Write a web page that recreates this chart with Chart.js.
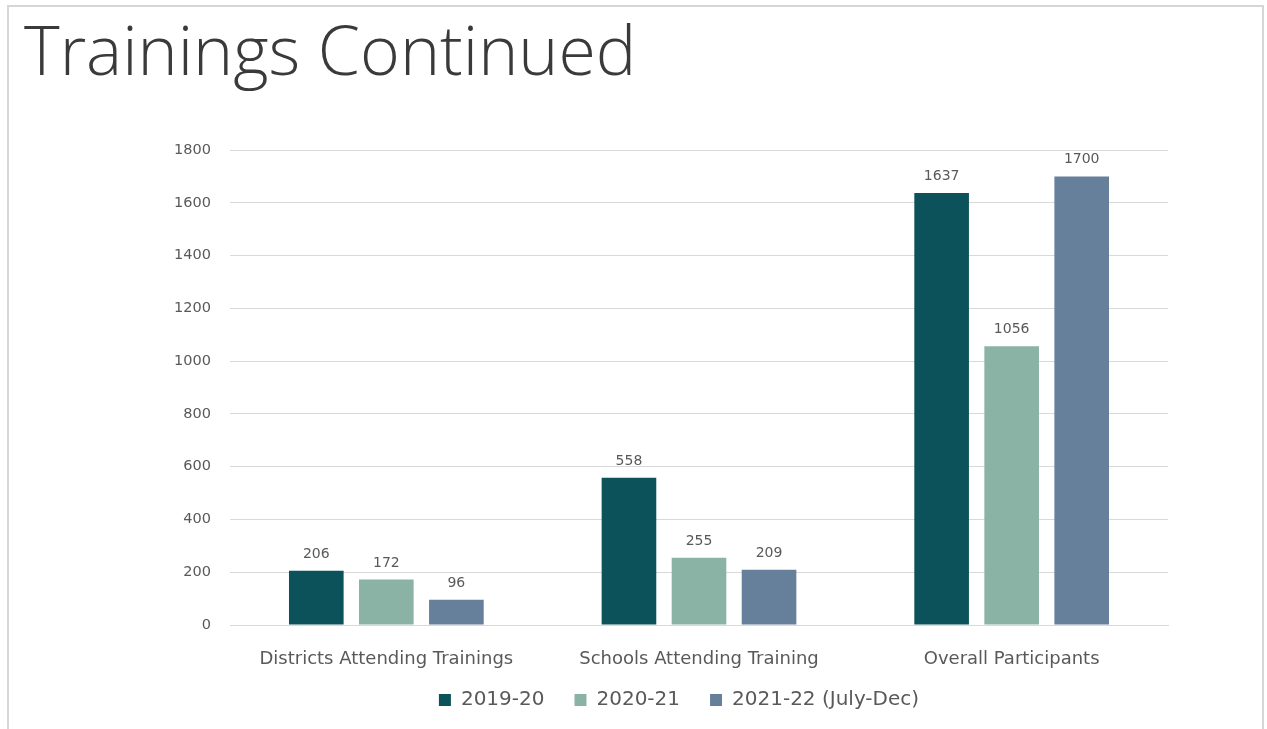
<!DOCTYPE html>
<html lang="en">
<head>
  <meta charset="UTF-8">
  <title>Trainings Continued</title>
  <script src="https://cdn.jsdelivr.net/npm/chart.js@4/dist/chart.umd.min.js"></script>
  <style>
    body {
      margin: 0;
      padding: 0;
      background-color: #ffffff;
      font-family: 'Open Sans', sans-serif;
    }

    #frame {
      position: absolute;
      left: 7px;
      top: 5px;
      width: 1253px;
      height: 740px;
      border: 2px solid #d6d6d6;
    }

    h1 {
      position: absolute;
      left: 24px;
      top: 2px;
      margin: 0;
      font-family: 'Open Sans', sans-serif;
      font-weight: 300;
      font-size: 68px;
      color: #3a3a3a;
    }

    #wrap {
      position: absolute;
      left: 0;
      top: 0;
      width: 1267px;
      height: 729px;
    }
  </style>
</head>
<body>

  <div id="frame"></div>
  <h1>Trainings Continued</h1>

  <div id="wrap">
    <canvas id="chart"></canvas>
  </div>

  <script>
    // data
    const categories = ['Districts Attending Trainings', 'Schools Attending Training', 'Overall Participants'];
    const seriesNames = ['2019-20', '2020-21', '2021-22 (July-Dec)'];
    const values2019 = [206, 558, 1637];
    const values2020 = [172, 255, 1056];
    const values2021 = [96, 209, 1700];
    const colors = ['#0c525b', '#8ab3a6', '#667f9b'];

    const textColor = '#595959';
    const textFont = 'DejaVu Sans';

    // values written over the bars
    const barLabels = {
      id: 'barLabels',
      afterDatasetsDraw(chart) {
        const ctx = chart.ctx;
        ctx.save();
        ctx.font = '14px "' + textFont + '"';
        ctx.fillStyle = textColor;
        ctx.textAlign = 'center';
        ctx.textBaseline = 'alphabetic';
        chart.data.datasets.forEach((ds, i) => {
          chart.getDatasetMeta(i).data.forEach((bar, j) => {
            ctx.fillText(ds.data[j], bar.x, bar.y - 13);
          });
        });
        ctx.restore();
      }
    };

    // nudge the legend so it sits where the original one is
    const legendShift = {
      id: 'legendShift',
      afterLayout(chart) {
        chart.legend.left += 50;
        chart.legend.top -= 9;
      }
    };

    const ctx = document.getElementById('chart').getContext('2d');
    const chart = new Chart(ctx, {
      type: 'bar',
      data: {
        labels: categories,
        datasets: [
          { label: seriesNames[0], data: values2019, backgroundColor: colors[0] },
          { label: seriesNames[1], data: values2020, backgroundColor: colors[1] },
          { label: seriesNames[2], data: values2021, backgroundColor: colors[2] }
        ]
      },
      options: {
        responsive: true,
        maintainAspectRatio: false,
        animation: false,
        categoryPercentage: 0.672,
        barPercentage: 0.78,
        layout: {
          padding: { left: 140, right: 99, top: 150, bottom: 0 }
        },
        plugins: {
          legend: {
            position: 'bottom',
            labels: {
              color: textColor,
              font: { family: textFont, size: 20 },
              boxWidth: 12,
              boxHeight: 12,
              padding: 30
            }
          },
          tooltip: { enabled: false }
        },
        scales: {
          x: {
            grid: { display: false },
            border: { color: '#d9d9d9' },
            ticks: {
              color: textColor,
              font: { family: textFont, size: 18 },
              padding: 16
            },
            afterFit(scale) { scale.height = 44; }
          },
          y: {
            min: 0,
            max: 1800,
            ticks: {
              stepSize: 200,
              color: textColor,
              font: { family: textFont, size: 14.5 },
              padding: 19,
              callback: (value) => String(value)
            },
            grid: { color: '#d9d9d9', drawTicks: false },
            border: { display: false },
            afterFit(scale) { scale.width = 90; }
          }
        }
      },
      plugins: [barLabels, legendShift]
    });
  </script>

</body>
</html>
